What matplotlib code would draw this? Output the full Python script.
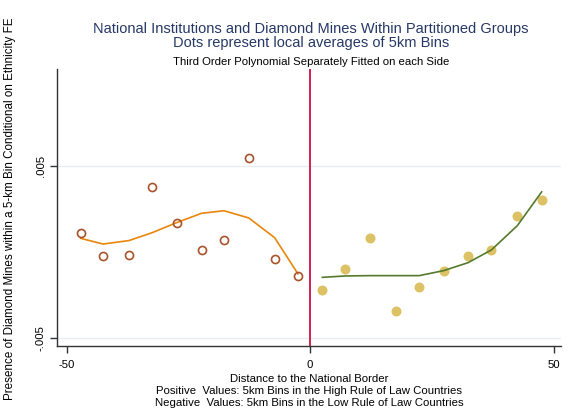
import numpy as np
import matplotlib.pyplot as plt

plt.rcParams['font.family'] = ['Liberation Sans', 'DejaVu Sans']

# Bins on the low rule of law side (negative distance)
x_izq = [-47.1, -42.5, -37.2, -32.4, -27.4, -22.3, -17.7, -12.6, -7.3, -2.5]
y_izq = [0.00110, -0.00025, -0.00017, 0.00378, 0.00168, 0.00013, 0.00068, 0.00546, -0.00041, -0.00139]
ajuste_izq = [0.00079, 0.00046, 0.00066, 0.00112, 0.00170, 0.00224, 0.00239, 0.00197, 0.00083, -0.00127]

# Bins on the high rule of law side (positive distance)
x_der = [2.5, 7.2, 12.3, 17.7, 22.4, 27.4, 32.4, 37.2, 42.5, 47.5]
y_der = [-0.00218, -0.00100, 0.00079, -0.00344, -0.00201, -0.00108, -0.00025, 0.00010, 0.00210, 0.00303]
ajuste_der = [-0.00147, -0.00139, -0.00137, -0.00137, -0.00137, -0.00108, -0.00062, 0.00012, 0.00152, 0.00348]

x_ticks = [-50, 0, 50]
y_ticks = [-0.005, 0.005]
y_tick_labels = ['-.005', '.005']

fig = plt.figure(figsize=(5.72, 4.17), dpi=100)
ax = fig.add_axes([0.0997, 0.171, 0.8813, 0.6635])

# lineas de referencia
for yt in y_ticks:
    ax.axhline(yt, color='#e6eef1', linewidth=1.0, zorder=0)
ax.axvline(0, color='#cc1141', linewidth=1.3, zorder=1)

ax.plot(x_izq, ajuste_izq, color='#e8860c', linewidth=1.2, zorder=2)
ax.plot(x_izq, y_izq, 'o', markerfacecolor='none', markeredgecolor='#a9532c',
        markeredgewidth=1.2, markersize=5.8, zorder=3)

ax.plot(x_der, y_der, 'o', color='#dcc264', markeredgewidth=0, markersize=7.2, zorder=2)
ax.plot(x_der, ajuste_der, color='#557a2b', linewidth=1.2, zorder=3)

ax.set_xlim(-51.95, 51.5)
ax.set_ylim(-0.00543, 0.0106)

for lado in ['top', 'right']:
    ax.spines[lado].set_visible(False)
for lado in ['left', 'bottom']:
    ax.spines[lado].set_color('#333333')
    ax.spines[lado].set_linewidth(1.0)

ax.set_xticks(x_ticks)
ax.set_xticklabels([str(v) for v in x_ticks])
ax.set_yticks(y_ticks)
ax.set_yticklabels(y_tick_labels, rotation=90, va='center')
ax.tick_params(axis='x', direction='out', length=5, width=1.0, color='#333333',
               labelsize=8.2, pad=5)
ax.tick_params(axis='y', direction='out', length=5, width=1.0, color='#333333',
               labelsize=8.2, pad=3)

ax.set_xlabel('Distance to the National Border\n'
              'Positive  Values: 5km Bins in the High Rule of Law Countries\n'
              'Negative  Values: 5km Bins in the Low Rule of Law Countries',
              fontsize=8.2, linespacing=1.25, labelpad=3)

fig.text(10 / 572, 0.5, 'Presence of Diamond Mines within a 5-km Bin Conditional on Ethnicity FE',
         rotation=90, ha='center', va='center', fontsize=8.4)

# titulos
fig.text(311 / 572, 1 - 29 / 417, 'National Institutions and Diamond Mines Within Partitioned Groups',
         ha='center', va='center', fontsize=10.5, color='#263866')
fig.text(311 / 572, 1 - 43 / 417, 'Dots represent local averages of 5km Bins',
         ha='center', va='center', fontsize=10.5, color='#263866')
fig.text(311 / 572, 1 - 62 / 417, 'Third Order Polynomial Separately Fitted on each Side',
         ha='center', va='center', fontsize=8.2, color='black')

fig.savefig('out.png', dpi=100, facecolor='white')
